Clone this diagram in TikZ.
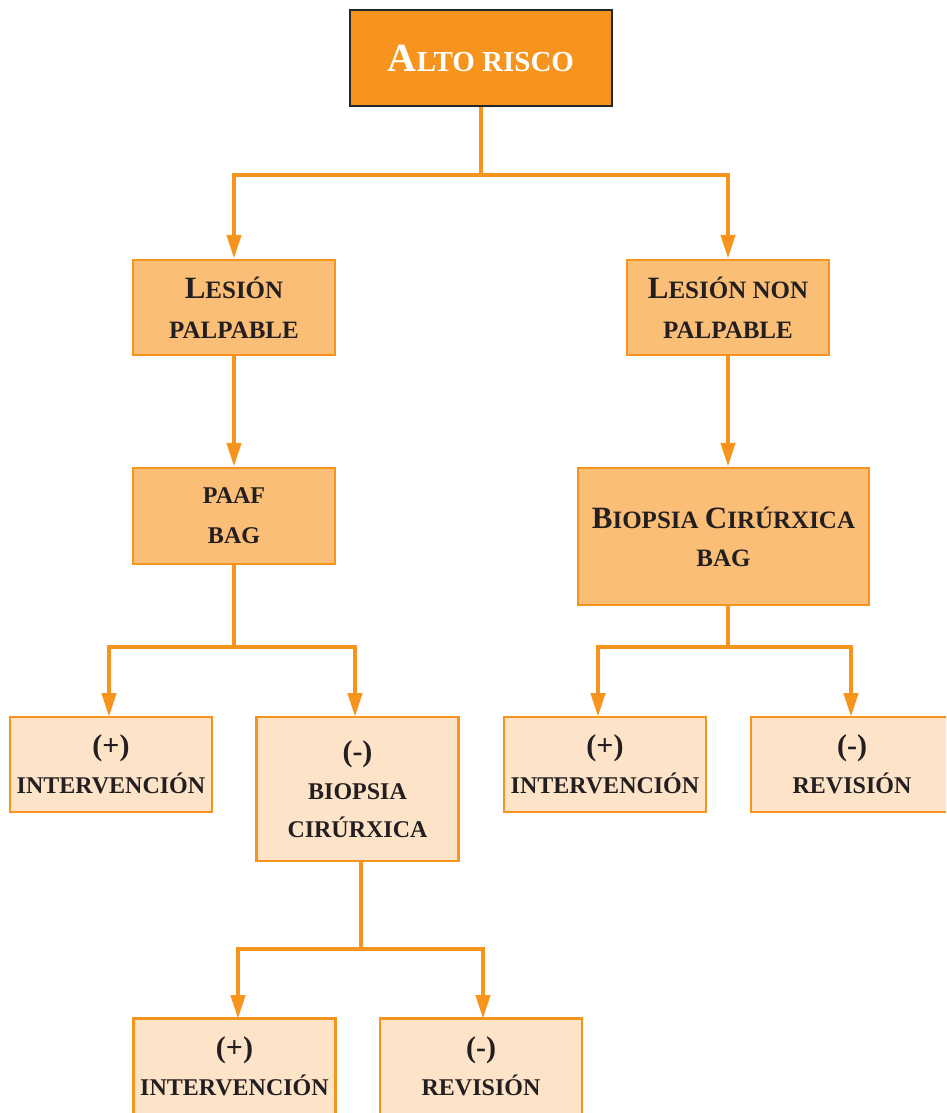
\documentclass[tikz,border=0pt]{standalone}
\usepackage{fontspec}
\setmainfont{Liberation Serif}[BoldFont={Liberation Serif Bold}]
\usetikzlibrary{arrows.meta}
\definecolor{orA}{HTML}{F7941D}
\definecolor{orB}{HTML}{FBBE76}
\definecolor{orC}{HTML}{FDE4C8}
\definecolor{txt}{HTML}{231F20}
\newcommand{\Lg}[1]{{\fontsize{31}{40}\selectfont #1}}
\begin{document}
\begin{tikzpicture}[x=1pt,y=-1pt,
  box/.style={draw=orA, line width=2.5pt, inner sep=0pt, align=center, text=txt,
    font=\bfseries\fontsize{25}{40}\selectfont},
  midbox/.style={box, fill=orB, minimum width=202pt, minimum height=95pt},
  lowbox/.style={box, fill=orC, minimum width=202pt, minimum height=95pt,
    font=\bfseries\fontsize{24}{38}\selectfont},
  conn/.style={draw=orA, line width=4.5pt, line join=miter},
  arr/.style={conn, -{Triangle[length=24pt,width=14pt]}}]
\clip (0,0) rectangle (946,1113);
\useasboundingbox (0,0) rectangle (946,1113);
\fill[white] (0,0) rectangle (946,1113);

\node[box, draw=black!85, fill=orA, text=white, minimum width=262pt, minimum height=96pt,
  font=\bfseries\fontsize{29}{36}\selectfont] (top) at (481,58)
  {{\fontsize{40}{36}\selectfont A}LTO RISCO};

\node[midbox] (lp) at (234,307.5) {\Lg{L}ESIÓN\\PALPABLE};
\node[midbox] (lnp) at (728,307.5) {\Lg{L}ESIÓN NON\\PALPABLE};
\node[midbox, font=\bfseries\fontsize{24}{40}\selectfont, minimum height=96pt] (paaf) at (234,516) {PAAF\\BAG};
\node[box, fill=orB, minimum width=291pt, minimum height=137pt] (bcb) at (723.5,536.5)
  {\Lg{B}IOPSIA \Lg{C}IRÚRXICA\\[-2pt]BAG};

\node[lowbox] (i1) at (111,764.5) {{\fontsize{30}{38}\selectfont (+)}\\INTERVENCIÓN};
\node[lowbox, minimum height=144pt] (bc) at (357.5,789) {{\fontsize{30}{38}\selectfont (-)}\\BIOPSIA\\CIRÚRXICA};
\node[lowbox] (i2) at (605,764.5) {{\fontsize{30}{38}\selectfont (+)}\\INTERVENCIÓN};
\node[lowbox] (r1) at (852,764.5) {{\fontsize{30}{38}\selectfont (-)}\\REVISIÓN};
\node[lowbox, minimum height=96pt] (i3) at (234.5,1066.5) {{\fontsize{30}{38}\selectfont (+)}\\INTERVENCIÓN};
\node[lowbox, minimum height=96pt] (r2) at (481,1066.5) {{\fontsize{30}{38}\selectfont (-)}\\REVISIÓN};

\coordinate (j1) at (481,175);
\coordinate (j2) at (234,647);
\coordinate (j3) at (728,647);
\coordinate (j4) at (361,949);

\draw[conn] (top.south) -- (j1);
\draw[arr] (j1) -| (lp.north);
\draw[arr] (j1) -| (lnp.north);
\draw[arr] (lp.south) -- (paaf.north);
\draw[arr] (lnp.south) -- (lnp.south |- bcb.north);

\draw[conn] (paaf.south) -- (j2);
\draw[arr] (j2) -| (109,717);
\draw[arr] (j2) -| (355,717);

\draw[conn] (j3 |- bcb.south) -- (j3);
\draw[arr] (j3) -| (598,717);
\draw[arr] (j3) -| (851,717);

\draw[conn] (j4 |- bc.south) -- (j4);
\draw[arr] (j4) -| (238,1019);
\draw[arr] (j4) -| (483,1019);
\end{tikzpicture}
\end{document}
